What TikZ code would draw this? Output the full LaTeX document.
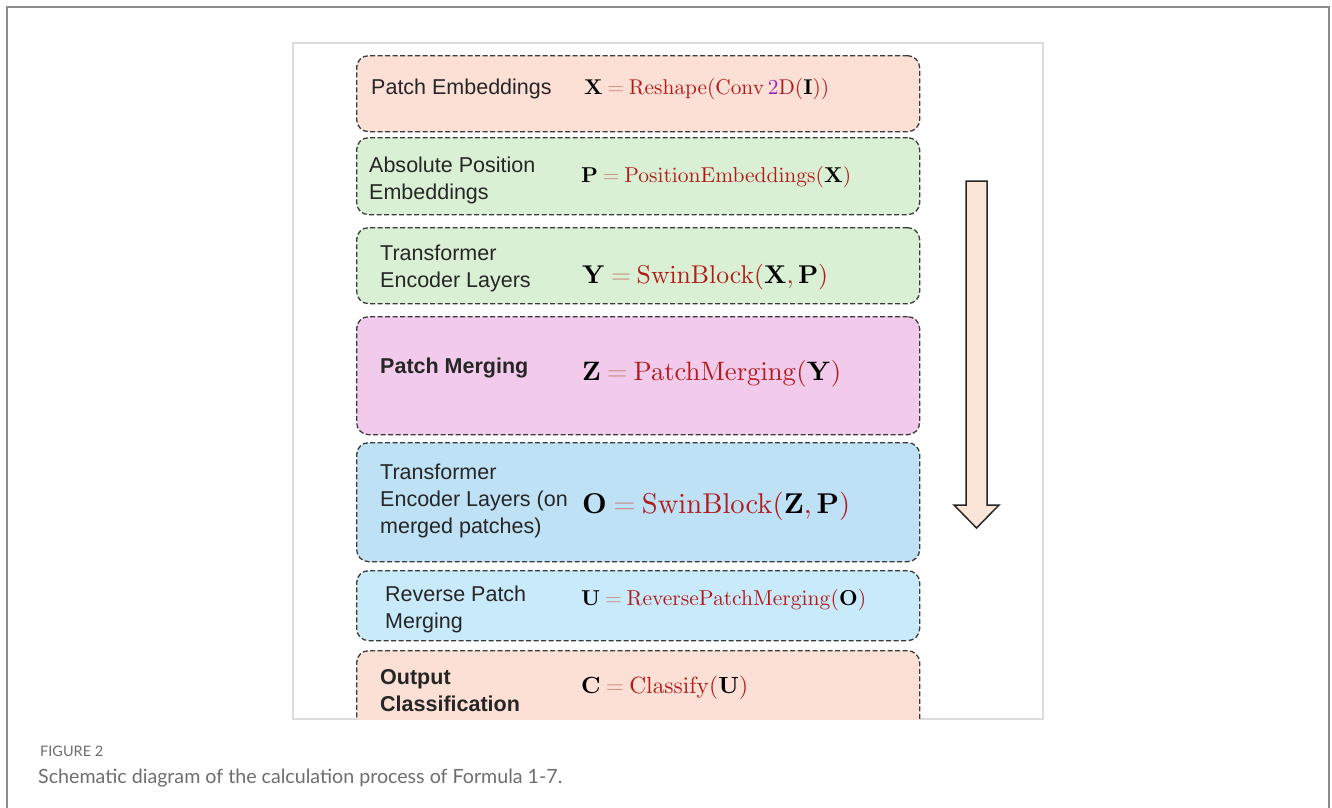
\documentclass[tikz,border=0pt]{standalone}
\usepackage[no-math]{fontspec}
\setmainfont{Liberation Sans}
\newfontfamily\capfont{Lato}
\usepackage{graphicx}
\definecolor{peach}{HTML}{FCE0D5}
\definecolor{softgreen}{HTML}{DAF0D4}
\definecolor{softpink}{HTML}{F2CBEC}
\definecolor{blueA}{HTML}{BEE1F6}
\definecolor{blueB}{HTML}{C9EAFA}
\definecolor{arrowfill}{HTML}{FBE4D8}
\definecolor{mred}{HTML}{B31B1B}
\definecolor{eqcol}{HTML}{C98A7C}
\definecolor{twocol}{HTML}{A020B0}
\definecolor{dashgray}{HTML}{3A3A3A}
\definecolor{framegray}{HTML}{8C8C8C}
\definecolor{innergray}{HTML}{DCDCDC}
\definecolor{capgray}{HTML}{6E6E6E}
\newcommand\blk[1]{{\color{black}\mathbf{#1}}}
\newcommand\myeq{\mkern4mu{\color{eqcol}=}\mkern4mu}
\tikzset{
  stage/.style={draw=dashgray, dash pattern=on 5pt off 2.5pt, line width=1.3pt,
    rounded corners=12pt, minimum width=563pt, anchor=north west, inner sep=0pt},
  lbl/.style={font=\fontsize{21.5}{27}\selectfont, text=black!85, align=left, inner sep=0pt},
  blbl/.style={lbl, font=\fontsize{21.5}{27}\selectfont\bfseries},
  eqn/.style={anchor=base west, inner sep=0pt, text=mred},
  blockarrow/.style={draw=black!85, line width=1.5pt, fill=arrowfill, line join=miter}
}
\begin{document}
\begin{tikzpicture}[x=1pt,y=-1pt]
\useasboundingbox (0,0) rectangle (1332,807);
\fill[white] (0,0) rectangle (1332,807);
\draw[framegray, line width=2.5pt] (7,840) -- (7,7) -- (1329,7) -- (1329,840);
\draw[innergray, line width=1.2pt] (293,43) rectangle (1043,719);

% boxes
\node[stage, fill=peach, minimum height=76pt] (b1) at (356,55) {};
\node[stage, fill=softgreen, minimum height=77pt] (b2) at (356,137) {};
\node[stage, fill=softgreen, minimum height=76pt] (b3) at (356,227) {};
\node[stage, fill=softpink, minimum height=118pt] (b4) at (356,316) {};
\node[stage, fill=blueA, minimum height=119pt] (b5) at (356,442) {};
\node[stage, fill=blueB, minimum height=70pt] (b6) at (356,570) {};
\begin{scope}
\clip (293,43) rectangle (1043,719);
\node[stage, fill=peach, minimum height=85pt] (b7) at (356,650) {};
\end{scope}

% labels
\node[lbl, anchor=base west] (l1) at (371,94) {Patch Embeddings};
\node[lbl, anchor=west] (l2) at (369,180) {Absolute Position\\Embeddings};
\node[lbl, anchor=west] (l3) at (380,268.5) {Transformer\\Encoder Layers};
\node[blbl, anchor=base west] (l4) at (380,373) {Patch Merging};
\node[lbl, anchor=west] (l5) at (380,500.5) {Transformer\\Encoder Layers (on\\merged patches)};
\node[lbl, anchor=west] (l6) at (385,609) {Reverse Patch\\Merging};
\node[blbl, anchor=west] (l7) at (380,691) {Output\\Classification};

% equations
\node[eqn] (e1) at (584,94) {\resizebox{245pt}{!}{$\blk{X}\myeq\mathrm{Reshape}(\mathrm{Conv}\,{\color{twocol}2}\mathrm{D}(\blk{I}))$}};
\node[eqn] (e2) at (581,182) {\resizebox{270pt}{!}{$\blk{P}\myeq\mathrm{PositionEmbeddings}(\blk{X})$}};
\node[eqn] (e3) at (582,283) {\resizebox{246pt}{!}{$\blk{Y}\myeq\mathrm{SwinBlock}(\blk{X},\blk{P})$}};
\node[eqn] (e4) at (582,380.5) {\resizebox{259pt}{!}{$\blk{Z}\myeq\mathrm{PatchMerging}(\blk{Y})$}};
\node[eqn] (e5) at (582,513) {\resizebox{268pt}{!}{$\blk{O}\myeq\mathrm{SwinBlock}(\blk{Z},\blk{P})$}};
\node[eqn] (e6) at (581,605.5) {\resizebox{285pt}{!}{$\blk{U}\myeq\mathrm{ReversePatchMerging}(\blk{O})$}};
\node[eqn] (e7) at (581,693) {\resizebox{167pt}{!}{$\blk{C}\myeq\mathrm{Classify}(\blk{U})$}};

% flow arrow
\draw[blockarrow] (966,181) -- (987,181) -- (987,505) -- (999,505) -- (976.5,528) -- (954,505) -- (966,505) -- cycle;

% caption
\node[anchor=base west, inner sep=0pt, text=capgray, font=\capfont\fontsize{15}{17}\selectfont] (fig) at (40,756.5) {\resizebox{63pt}{!}{FIGURE 2}};
\node[anchor=base west, inner sep=0pt, text=capgray, font=\capfont\fontsize{18.5}{22}\selectfont] (cap) at (38,783) {\resizebox{524pt}{!}{Schematic diagram of the calculation process of Formula 1-7.}};
\end{tikzpicture}
\end{document}
